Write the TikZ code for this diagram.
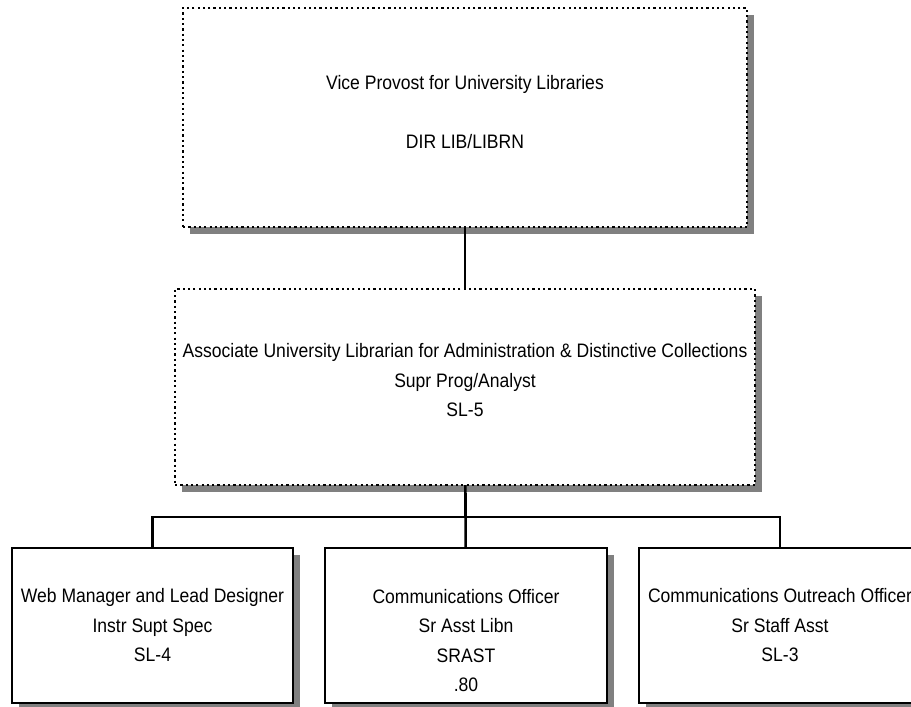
\documentclass[tikz,border=0pt]{standalone}
\usepackage{fontspec}
\setmainfont{Liberation Sans}[FakeStretch=0.9]
\usepackage{tikz}
\usetikzlibrary{shadows}
\usetikzlibrary{positioning}

\definecolor{shadowgray}{RGB}{128,128,128}
\newcommand{\orgfont}{\fontsize{19.5pt}{29.5pt}\selectfont}

\tikzset{
	orgbox/.style={draw, line width=2.6pt, fill=white, inner sep=0pt, outer sep=0pt, align=center, font=\orgfont,
		drop shadow={shadow xshift=7pt, shadow yshift=-7pt, fill=shadowgray, opacity=1}},
	dotbox/.style={orgbox, line width=2.2pt, dash pattern=on 2.2pt off 3.1pt},
	link/.style={line width=2.6pt}
}

\begin{document}
\begin{tikzpicture}[x=1pt, y=-1pt]
			\clip (0,0) rectangle (911,707);

			% top of the chart
			\node[dotbox, minimum width=564pt, minimum height=219pt] (vp) at (465,117.5)
				{Vice Provost for University Libraries\\[29.5pt]DIR LIB/LIBRN\rule[-11.4pt]{0pt}{11.4pt}};
			\node[dotbox, minimum width=580pt, minimum height=196pt, below=62pt of vp] (aul)
				{Associate University Librarian for Administration \& Distinctive Collections\\Supr Prog/Analyst\\SL-5\rule[-13.2pt]{0pt}{13.2pt}};

			% staff
			\node[orgbox, minimum width=281pt, minimum height=155pt] (web) at (152.5,625.5)
				{Web Manager and Lead Designer\\Instr Supt Spec\\SL-4};
			\node[orgbox, minimum width=282pt, minimum height=155pt, right=32pt of web] (comm)
				{\rule{0pt}{43.7pt}Communications Officer\\Sr Asst Libn\\SRAST\\.80};
			\node[orgbox, minimum width=282pt, minimum height=155pt, right=32pt of comm] (outr)
				{Communications Outreach Officer\\Sr Staff Asst\\SL-3};

			\coordinate (bus) at (465,517);
			\draw[link] (vp) -- (aul);
			\draw[link] (aul) -- (comm);
			\draw[link] (web.north) |- (bus) -| (outr.north);
		\end{tikzpicture}
\end{document}
